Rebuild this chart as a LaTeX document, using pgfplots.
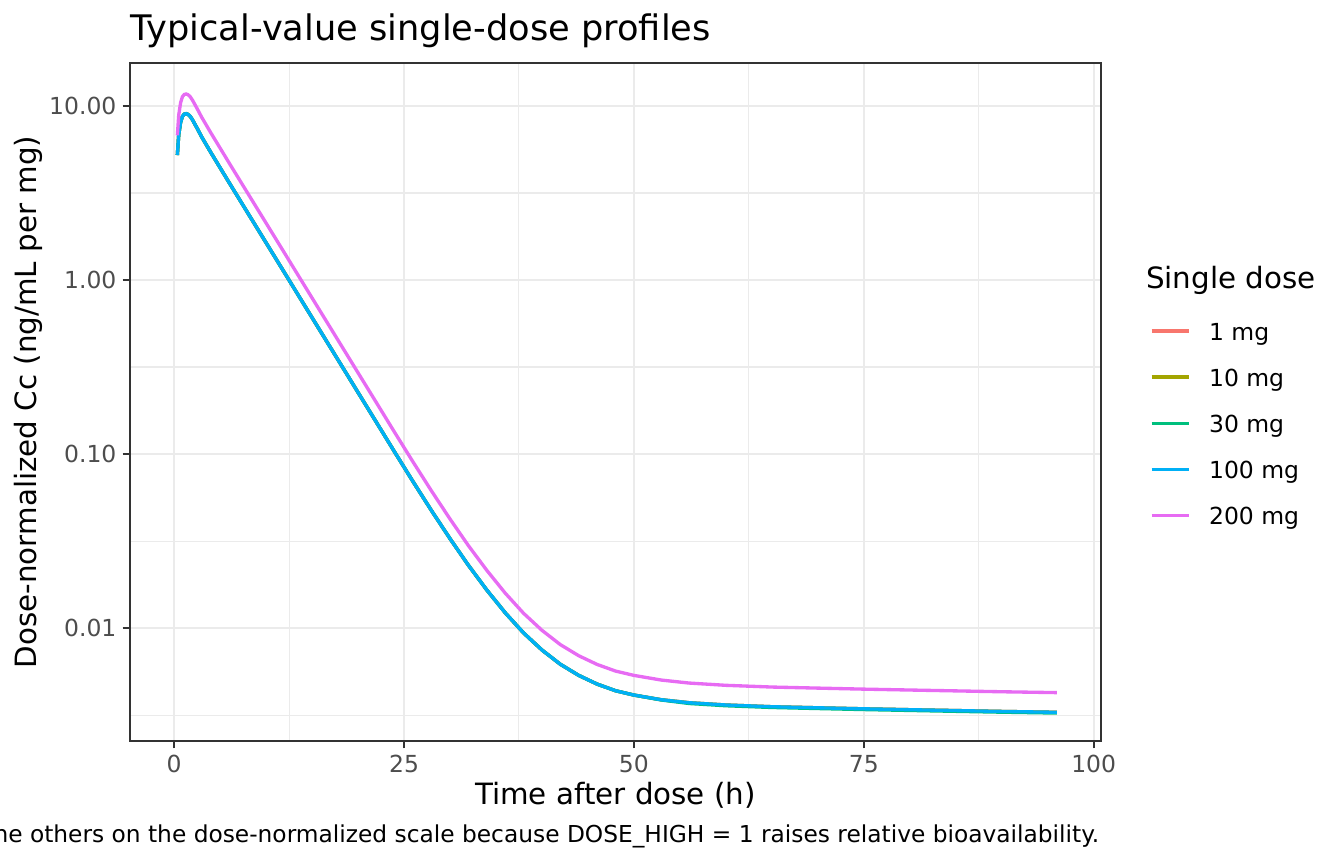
\documentclass[border=0pt]{standalone}
\usepackage{fontspec}
\setmainfont{DejaVu Sans}
\usepackage{pgfplots}
\usepackage{pgfplotstable}
\pgfplotsset{compat=1.18}
\definecolor{cA}{HTML}{F8766D}
\definecolor{cB}{HTML}{A3A500}
\definecolor{cC}{HTML}{00BF7D}
\definecolor{cD}{HTML}{00B0F6}
\definecolor{cE}{HTML}{E76BF3}
\definecolor{grey92}{HTML}{EBEBEB}
\definecolor{grey20}{HTML}{333333}
\definecolor{grey30}{HTML}{4D4D4D}

\pgfplotstableread{
t      cmain     c30       c200
0.35   5.224     5.224     6.777
0.5    6.839     6.839     8.872
0.7    8.035     8.035     10.42
0.9    8.710     8.710     11.30
1.1    8.974     8.974     11.64
1.3    9.036     9.036     11.72
1.5    8.954     8.954     11.62
1.75   8.710     8.710     11.30
2.0    8.318     8.318     10.79
2.5    7.447     7.447     9.660
3.0    6.637     6.637     8.610
4.0    5.395     5.395     6.998
5.0    4.416     4.416     5.728
6.0    3.614     3.614     4.688
7.0    2.965     2.965     3.846
8.0    2.432     2.432     3.155
10     1.637     1.637     2.124
12     1.102     1.102     1.430
14     0.7413    0.7413    0.9616
16     0.4989    0.4989    0.6472
18     0.3357    0.3357    0.4355
20     0.2259    0.2259    0.2930
22     0.1521    0.1521    0.1973
24     0.1023    0.1023    0.1327
26     0.06918   0.06918   0.08974
28     0.04721   0.04721   0.06124
30     0.03266   0.03266   0.04237
32     0.02296   0.02296   0.02978
34     0.01656   0.01656   0.02148
36     0.01225   0.01225   0.01589
38     0.009376  0.009376  0.01216
40     0.007482  0.007482  0.009706
42     0.006194  0.006194  0.008035
44     0.005346  0.005346  0.006935
46     0.004764  0.004764  0.006180
48     0.004365  0.004365  0.005662
50     0.004121  0.004121  0.005346
53     0.003873  0.003860  0.005024
56     0.003724  0.003687  0.004831
60     0.003614  0.003578  0.004688
65     0.003532  0.003497  0.004582
70     0.003483  0.003448  0.004518
75     0.003436  0.003402  0.004457
80     0.003396  0.003362  0.004405
85     0.003357  0.003323  0.004355
90     0.003319  0.003286  0.004305
96     0.003281  0.003248  0.004256
}\profiles

\begin{document}
\begin{tikzpicture}
\useasboundingbox (-48.75pt,-46.125pt) rectangle (455.25pt,277.875pt);
\clip (-48.75pt,-46.125pt) rectangle (455.25pt,277.875pt);
\begin{axis}[
  at={(0pt,0pt)}, anchor=south west,
  width=364.125pt, height=254.25pt, scale only axis,
  xmin=-4.8, xmax=100.8,
  ymode=log, ymin=0.002244, ymax=17.66,
  xtick={0,25,50,75,100}, xticklabels={0,25,50,75,100},
  minor xtick={12.5,37.5,62.5,87.5},
  ytick={0.01,0.1,1,10}, yticklabels={0.01,0.10,1.00,10.00},
  minor ytick={0.003162,0.03162,0.3162,3.162},
  grid=both,
  major grid style={color=grey92, line width=0.8pt},
  minor grid style={color=grey92, line width=0.4pt},
  minor tick length=0pt, major tick length=2.75pt,
  tick align=outside, xtick pos=bottom, ytick pos=left,
  tick style={color=grey20, line width=0.8pt},
  axis line style={color=grey20, line width=0.8pt},
  ticklabel style={font=\fontsize{8.8}{10.56}\selectfont, color=grey30, inner sep=0pt, text height=6.4pt, text depth=0pt},
  xticklabel style={anchor=north, yshift=-2.5pt},
  yticklabel style={anchor=east, xshift=-2.15pt},
  legend style={draw=none, fill=none, inner sep=0pt, outer sep=0pt,
    at={(1.05047,0.61691)}, anchor=north west,
    row sep=8.7pt, column sep=7.0pt,
    font=\fontsize{8.8}{10.56}\selectfont,
    cells={anchor=west},
    nodes={inner sep=0pt, text height=6.5pt, text depth=2.1pt}},
  legend image code/.code={\draw[#1, line width=1.25pt] (0pt,1.2pt) -- (13.9pt,1.2pt);},
  every axis plot/.append style={line width=1.25pt, no markers},
]
\addplot[cA] table[x=t, y=cmain] {\profiles};
\addlegendentry{1 mg}
\addplot[cB] table[x=t, y=cmain] {\profiles};
\addlegendentry{10 mg}
\addplot[cC] table[x=t, y=c30] {\profiles};
\addlegendentry{30 mg}
\addplot[cD] table[x=t, y=cmain] {\profiles};
\addlegendentry{100 mg}
\addplot[cE] table[x=t, y=c200] {\profiles};
\addlegendentry{200 mg}
\end{axis}
\node[anchor=base west, font=\fontsize{13.2}{15.84}\selectfont, inner sep=0pt] at (0pt,262.85pt) {Typical-value single-dose profiles};
\node[anchor=base, font=\fontsize{11}{13.2}\selectfont, inner sep=0pt] at (182.06pt,-24pt) {Time after dose (h)};
\node[anchor=base, rotate=90, font=\fontsize{11}{13.2}\selectfont, inner sep=0pt] at (-34.9pt,127.125pt) {Dose-normalized Cc (ng/mL per mg)};
\node[anchor=base east, font=\fontsize{8.74}{10.4}\selectfont, inner sep=0pt] at (363.6pt,-37.9pt) {The 200 mg profile sits above the others on the dose-normalized scale because DOSE\_HIGH = 1 raises relative bioavailability.};
\node[anchor=base west, font=\fontsize{11}{13.2}\selectfont, inner sep=0pt] at (380.8pt,169.5pt) {Single dose};
\end{tikzpicture}
\end{document}
